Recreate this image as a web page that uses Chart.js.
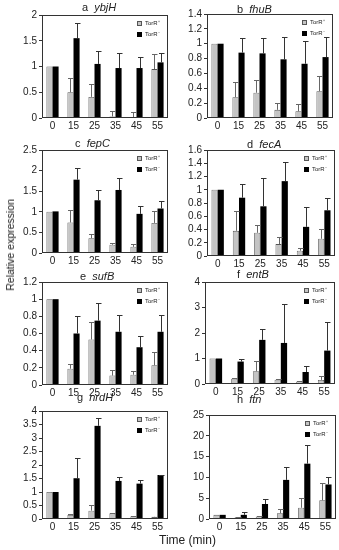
<!DOCTYPE html>
<html>
<head>
<meta charset="utf-8">
<script src="https://cdn.jsdelivr.net/npm/chart.js@4/dist/chart.umd.min.js"></script>
<style>
  html, body { margin:0; padding:0; background:#fff; }
  body { width:339px; height:550px; position:relative; overflow:hidden; font-family:"Liberation Sans", Arial, sans-serif; color:#222; }
  .cv { position:absolute; }
  .title { position:absolute; font-size:11px; white-space:pre; line-height:11px; }
  .title i { font-style:italic; }
  .leg { position:absolute; font-size:6px; line-height:6px; white-space:nowrap; }
  .sq { display:inline-block; width:5px; height:5px; vertical-align:middle; margin-right:3px; box-sizing:border-box; }
  .ylab { position:absolute; font-size:10.5px; line-height:12px; writing-mode:vertical-rl; transform:rotate(180deg); white-space:nowrap; }
  .xlab { position:absolute; font-size:12px; line-height:14px; white-space:nowrap; }
</style>
</head>
<body>
<script>
// ---------- data ----------
const times = ['0','15','25','35','45','55'];
const panelLetters = ['a','b','c','d','e','f','g','h'];
const geneNames = ['ybjH','fhuB','fepC','fecA','sufB','entB','nrdH','ftn'];
const yMaxes = [2, 1.4, 2.5, 1.6, 1.2, 4, 4, 25];
const ySteps = [0.5, 0.2, 0.5, 0.2, 0.2, 1, 0.5, 5];
const legendLabels = ['TorR\u207A', 'TorR\u207B'];
const yAxisTitle = 'Relative expression';
const xAxisTitle = 'Time (min)';

const ybjH_plus     = [1.00, 0.50, 0.41, 0.03, 0.01, 0.95];
const ybjH_plusTop  = [null, 0.78, 0.66, 0.13, 0.12, 1.25];
const ybjH_minus    = [1.00, 1.55, 1.05, 0.97, 0.97, 1.08];
const ybjH_minusTop = [null, 1.84, 1.31, 1.27, 1.18, 1.27];

const fhuB_plus     = [1.00, 0.28, 0.34, 0.11, 0.09, 0.36];
const fhuB_plusTop  = [null, 0.48, 0.51, 0.20, 0.19, 0.56];
const fhuB_minus    = [1.00, 0.88, 0.87, 0.79, 0.73, 0.82];
const fhuB_minusTop = [null, 1.08, 1.08, 1.09, 1.03, 1.09];

const fepC_plus     = [1.00, 0.74, 0.36, 0.20, 0.15, 0.73];
const fepC_plusTop  = [null, 1.05, 0.47, 0.25, 0.23, 1.03];
const fepC_minus    = [1.01, 1.78, 1.28, 1.53, 0.95, 1.08];
const fepC_minusTop = [null, 2.07, 1.54, 1.83, 1.14, 1.27];

const fecA_plus     = [1.00, 0.38, 0.35, 0.18, 0.08, 0.26];
const fecA_plusTop  = [null, 0.68, 0.47, 0.28, 0.12, 0.41];
const fecA_minus    = [1.00, 0.88, 0.75, 1.13, 0.44, 0.69];
const fecA_minusTop = [null, 1.08, 1.17, 1.42, 0.74, 0.88];

const sufB_plus     = [1.00, 0.19, 0.53, 0.11, 0.12, 0.23];
const sufB_plusTop  = [null, 0.24, 0.73, 0.18, 0.16, 0.39];
const sufB_minus    = [1.00, 0.60, 0.75, 0.62, 0.44, 0.62];
const sufB_minusTop = [null, 0.80, 0.95, 0.81, 0.57, 0.82];

const entB_plus     = [1.00, 0.21, 0.50, 0.17, 0.10, 0.16];
const entB_plusTop  = [null, 0.22, 0.92, 0.18, 0.11, 0.33];
const entB_minus    = [1.00, 0.88, 1.73, 1.61, 0.47, 1.31];
const entB_minusTop = [null, 1.00, 2.17, 3.14, 0.69, 2.44];

const nrdH_plus     = [1.00, 0.15, 0.31, 0.21, 0.10, 0.08];
const nrdH_plusTop  = [null, 0.20, 0.52, 0.22, 0.11, 0.09];
const nrdH_minus    = [1.00, 1.51, 3.45, 1.41, 1.31, 1.63];
const nrdH_minusTop = [null, 2.25, 3.73, 1.54, 1.45, 1.64];

const ftn_plus      = [1.0, 0.4, 0.6, 1.4, 2.7, 4.5];
const ftn_plusTop   = [null, 0.5, 0.7, 2.5, 5.0, 8.6];
const ftn_minus     = [1.0, 1.0, 3.6, 9.4, 13.3, 8.3];
const ftn_minusTop  = [null, 1.6, 4.9, 12.6, 17.8, 10.0];

const plusSeries  = [ybjH_plus, fhuB_plus, fepC_plus, fecA_plus, sufB_plus, entB_plus, nrdH_plus, ftn_plus];
const plusTops    = [ybjH_plusTop, fhuB_plusTop, fepC_plusTop, fecA_plusTop, sufB_plusTop, entB_plusTop, nrdH_plusTop, ftn_plusTop];
const minusSeries = [ybjH_minus, fhuB_minus, fepC_minus, fecA_minus, sufB_minus, entB_minus, nrdH_minus, ftn_minus];
const minusTops   = [ybjH_minusTop, fhuB_minusTop, fepC_minusTop, fecA_minusTop, sufB_minusTop, entB_minusTop, nrdH_minusTop, ftn_minusTop];

// ---------- layout (plot areas: left, top, right, bottom) ----------
const plotBoxes = [
  [42, 15, 168, 118], [207, 14, 333, 118],
  [42, 150, 168, 253], [207, 150, 335, 256],
  [42, 282, 168, 385], [205, 282, 335, 384],
  [42, 411, 168, 519], [209, 415, 336, 519]
];
const titlePos = [[82, 2], [237, 4], [75, 138], [247, 139], [80, 271], [237, 269], [77, 392], [237, 394]];

const YW = 40, TOPPAD = 8, XH = 18, RPAD = 3;

Chart.defaults.font.family = '"Liberation Sans", Arial, sans-serif';
Chart.defaults.color = '#222';
Chart.defaults.animation = false;

const errorBarPlugin = {
  id: 'errbars',
  afterDatasetsDraw(chart) {
    const ctx = chart.ctx;
    const ys = chart.scales.y;
    chart.data.datasets.forEach((ds, di) => {
      const meta = chart.getDatasetMeta(di);
      meta.data.forEach((bar, i) => {
        const top = ds.errTop[i];
        if (top == null) return;
        const yTop = Math.round(ys.getPixelForValue(top)) + 0.5;
        const x = Math.round(bar.x) + 0.5;
        ctx.save();
        ctx.strokeStyle = ds.errColor;
        ctx.lineWidth = 1;
        ctx.beginPath();
        ctx.moveTo(x, bar.y);
        ctx.lineTo(x, yTop);
        ctx.moveTo(x - 2.5, yTop);
        ctx.lineTo(x + 3, yTop);
        ctx.stroke();
        ctx.restore();
      });
    });
  }
};
const framePlugin = {
  id: 'frame',
  afterDraw(chart) {
    const a = chart.chartArea, ctx = chart.ctx;
    ctx.save();
    ctx.strokeStyle = '#333';
    ctx.lineWidth = 1;
    ctx.strokeRect(Math.round(a.left) + 0.5, Math.round(a.top) + 0.5, Math.round(a.right - a.left) - 1, Math.round(a.bottom - a.top) - 1);
    ctx.restore();
  }
};

plotBoxes.forEach((b, p) => {
  const [L, T, R, B] = b;
  const cv = document.createElement('canvas');
  cv.className = 'cv';
  const w = (R - L) + YW + RPAD, h = (B - T) + TOPPAD + XH;
  cv.style.left = (L - YW) + 'px';
  cv.style.top = (T - TOPPAD) + 'px';
  cv.style.width = w + 'px';
  cv.style.height = h + 'px';
  cv.width = w; cv.height = h;
  document.body.appendChild(cv);

  new Chart(cv, {
    type: 'bar',
    data: {
      labels: times,
      datasets: [
        { label: legendLabels[0], data: plusSeries[p], errTop: plusTops[p], errColor: '#666',
          backgroundColor: '#c4c4c4', borderColor: '#555', borderWidth: 0.8,
          categoryPercentage: 0.58, barPercentage: 1.0 },
        { label: legendLabels[1], data: minusSeries[p], errTop: minusTops[p], errColor: '#333',
          backgroundColor: '#000', borderColor: '#000', borderWidth: 0,
          categoryPercentage: 0.58, barPercentage: 1.0 }
      ]
    },
    options: {
      responsive: false,
      maintainAspectRatio: false,
      devicePixelRatio: 1,
      layout: { padding: { top: TOPPAD, right: RPAD, left: 0, bottom: 0 } },
      plugins: { legend: { display: false }, title: { display: false }, tooltip: { enabled: false } },
      scales: {
        x: {
          grid: { display: false, drawTicks: false, tickLength: 0 },
          border: { display: false },
          ticks: { font: { size: 10 }, padding: 2, maxRotation: 0, autoSkip: false, color: '#222' },
          afterFit: s => { s.height = XH; }
        },
        y: {
          min: 0, max: yMaxes[p],
          grid: { drawOnChartArea: false, drawTicks: true, tickLength: 3, color: '#333' },
          border: { display: false },
          ticks: { stepSize: ySteps[p], autoSkip: false, font: { size: 10 }, padding: 2, color: '#222',
                   callback: v => String(+(+v).toFixed(2)) },
          afterFit: s => { s.width = YW; }
        }
      }
    },
    plugins: [errorBarPlugin, framePlugin]
  });

  // title
  const t = document.createElement('div');
  t.className = 'title';
  t.style.left = titlePos[p][0] + 'px';
  t.style.top = titlePos[p][1] + 'px';
  t.innerHTML = panelLetters[p] + '  <i>' + geneNames[p] + '</i>';
  document.body.appendChild(t);

  // legend
  const colors = [['#c4c4c4', '#555'], ['#000', '#000']];
  legendLabels.forEach((lab, k) => {
    const d = document.createElement('div');
    d.className = 'leg';
    d.style.left = (R - 31) + 'px';
    d.style.top = (T + 5 + k * 11) + 'px';
    d.innerHTML = '<span class="sq" style="background:' + colors[k][0] + ';border:1px solid ' + colors[k][1] + '"></span>' + lab;
    document.body.appendChild(d);
  });
});

const yl = document.createElement('div');
yl.className = 'ylab';
yl.textContent = yAxisTitle;
document.body.appendChild(yl);
yl.style.left = Math.round(10 - yl.offsetWidth / 2) + 'px';
yl.style.top = Math.round(245 - yl.offsetHeight / 2) + 'px';

const xl = document.createElement('div');
xl.className = 'xlab';
xl.textContent = xAxisTitle;
document.body.appendChild(xl);
xl.style.left = Math.round(187 - xl.offsetWidth / 2) + 'px';
xl.style.top = Math.round(540 - xl.offsetHeight / 2) + 'px';
</script>
</body>
</html>
